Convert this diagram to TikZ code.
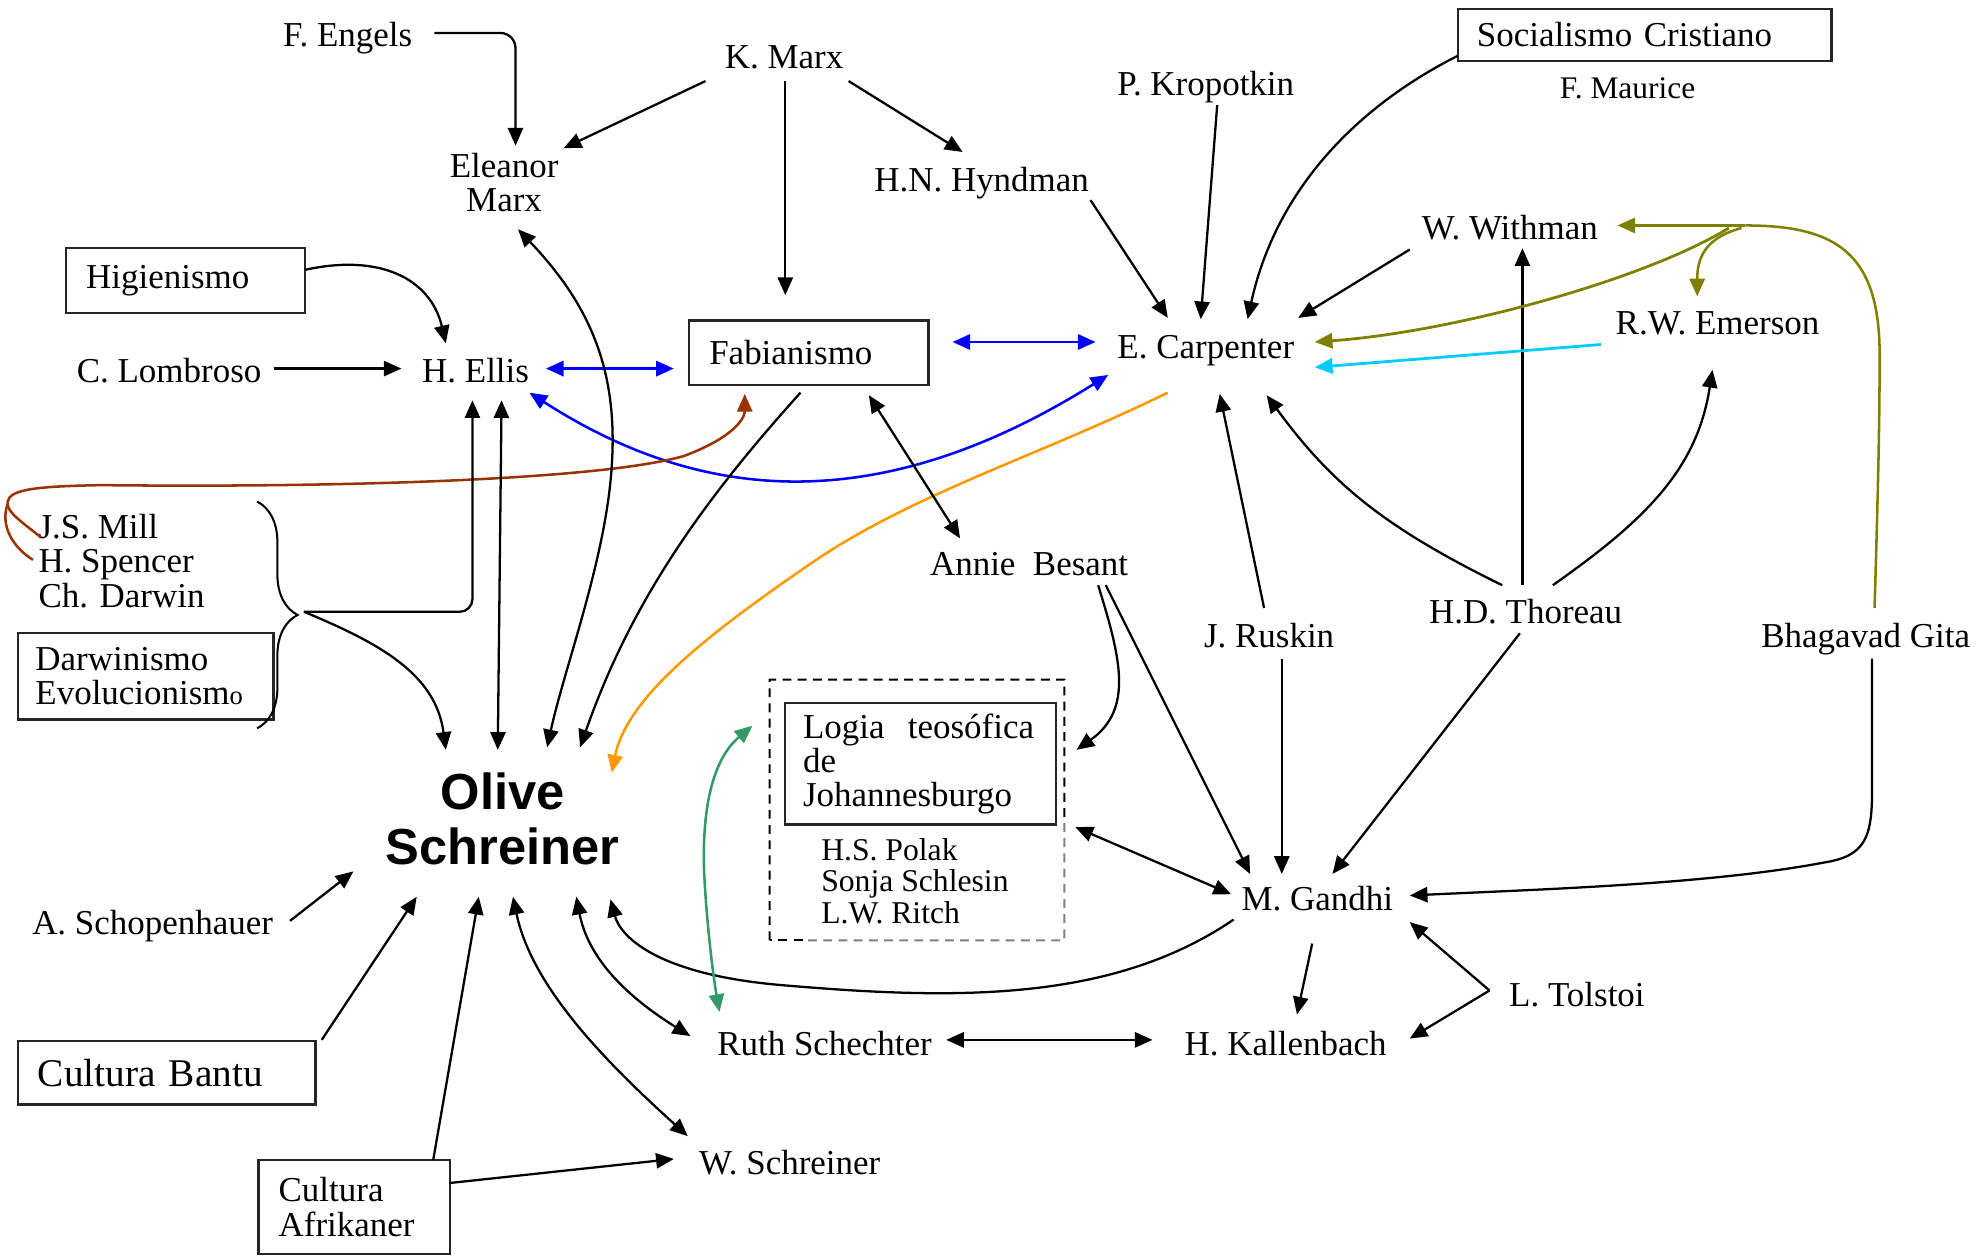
\documentclass[tikz,border=0pt]{standalone}
\usepackage{fontspec}
\setmainfont{Liberation Serif}
\setsansfont{Liberation Sans}
\usetikzlibrary{arrows.meta,calc,decorations.pathreplacing}
\definecolor{cblue}{RGB}{0,0,255}
\definecolor{cbrown}{RGB}{153,51,0}
\definecolor{corange}{RGB}{255,153,0}
\definecolor{ccyan}{RGB}{0,204,255}
\definecolor{colive}{RGB}{128,128,0}
\definecolor{cgreen}{RGB}{51,153,102}
\newcommand\mainsz{\fontsize{13.8}{13.5}\selectfont}
\begin{document}
\begin{tikzpicture}[x=0.5pt,y=-0.5pt,
  lbl/.style={font=\mainsz, inner xsep=6pt, inner ysep=4pt, text height=10pt, text depth=3pt},
  lbltwo/.style={font=\mainsz, inner sep=0pt},
  box/.style={draw=black!85, line width=0.9pt, font=\mainsz, align=left, inner xsep=8pt, inner ysep=0pt},
  olivebig/.style={font=\sffamily\bfseries\fontsize{20}{21.5}\selectfont, align=center, minimum width=113pt, minimum height=59pt, inner sep=0pt},
  members/.style={font=\fontsize{12.5}{12.5}\selectfont, align=left, inner sep=0pt, anchor=west},
  arr/.style={line width=0.9pt, -{Triangle[length=7pt,width=6pt]}},
  darr/.style={line width=0.9pt, {Triangle[length=7pt,width=6pt]}-{Triangle[length=7pt,width=6pt]}},
  oln/.style={colive, line width=1pt},
  dashpat/.style={line width=0.8pt, dash pattern=on 3.5pt off 2.5pt}
]
\useasboundingbox (0,0) rectangle (1568,992);

% ---------- nodes ----------
\node[lbl] (engels) at (274.5,30) {F. Engels};
\node[lbl] (kmarx) at (619,47) {K. Marx};
\node[lbltwo, align=center] (eleanor) at (398,144) {Eleanor\\Marx};
\node[lbl] (hyndman) at (775,144) {H.N. Hyndman};
\node[lbl] (kropotkin) at (952,68) {P. Kropotkin};
\node[box, minimum width=147.5pt, minimum height=20.5pt, text width=132.5pt, inner xsep=7.5pt] (socialismo) at (1298.5,27.5) {Socialismo Cristiano};
\node[lbl, font=\fontsize{12.4}{12}\selectfont] (maurice) at (1285,71) {F. Maurice};
\node[lbl] (withman) at (1192,182) {W. Withman};
\node[lbl] (emerson) at (1356,257) {R.W. Emerson};
\node[lbl] (carpenter) at (952,276) {E. Carpenter};
\node[box, minimum width=94.5pt, minimum height=25.5pt, text width=78.5pt] (higienismo) at (146.5,221.5) {Higienismo};
\node[lbl] (lombroso) at (133.5,295) {C. Lombroso};
\node[lbl] (ellis) at (375.5,295) {H. Ellis};
\node[box, minimum width=94.5pt, minimum height=25.5pt, text width=78.5pt] (fabianismo) at (638.5,278.5) {Fabianismo};
\node[lbltwo, font=\fontsize{13.8}{13.75}\selectfont, anchor=west, align=left] (mill) at (30,443) {J.S. Mill\\H. Spencer\\Ch. Darwin};
\node[box, minimum width=101pt, minimum height=34pt, text width=87pt, inner xsep=7pt] (darwinismo) at (115,534) {Darwinismo\\Evolucionism{\fontsize{10.5}{10}\selectfont o}};
\node[lbl] (besant) at (812.5,447) {Annie\ \ Besant};
\node[lbl] (ruskin) at (1002,504) {J. Ruskin};
\node[lbl] (thoreau) at (1204.5,485) {H.D. Thoreau};
\node[lbl] (gita) at (1473,504) {Bhagavad Gita};
\node[olivebig] (olive) at (397,646.5) {Olive\\Schreiner};
\node[minimum width=116pt, minimum height=102.5pt, inner sep=0pt] (logiagrp) at (724,639.5) {};
\node[box, minimum width=107pt, minimum height=48pt, text width=93pt, inner xsep=7pt] (logia) at (727,603) {Logia\ \ teosófica\\de\\Johannesburgo};
\node[members] (memb) at (648,695.5) {H.S. Polak\\Sonja Schlesin\\L.W. Ritch};
\node[lbl] (gandhi) at (1040,712) {M. Gandhi};
\node[lbl] (schopenhauer) at (120.5,731) {A. Schopenhauer};
\node[box, font=\fontsize{15.5}{15}\selectfont, minimum width=117.5pt, minimum height=25pt, text width=101.5pt] (bantu) at (131.5,847) {Cultura Bantu};
\node[lbl] (ruth) at (651,826) {Ruth Schechter};
\node[lbl] (kallenbach) at (1015,826) {H. Kallenbach};
\node[lbl] (tolstoi) at (1245,788) {L. Tolstoi};
\node[lbl] (wschreiner) at (623.5,920) {W. Schreiner};
\node[box, minimum width=75.5pt, minimum height=37pt, text width=59.5pt] (afrikaner) at (279.5,953) {Cultura\\Afrikaner};

% dashed group border
\draw[dashpat] (logiagrp.south west) -- (logiagrp.north west) -- (logiagrp.north east) -- ($(logiagrp.north east)!0.55!(logiagrp.south east)$);
\draw[dashpat, black!50] ($(logiagrp.north east)!0.55!(logiagrp.south east)$) -- (logiagrp.south east) -- ($(logiagrp.south west)+(26,0)$);
\draw[dashpat] ($(logiagrp.south west)+(26,0)$) -- (logiagrp.south west);

% brace
\draw[line width=0.8pt, decorate, decoration={brace, amplitude=16pt}] (203,396) -- (203,575);
\coordinate (bracetip) at (240,483);

% ---------- connectors ----------
\draw[arr, rounded corners=6pt] ($(engels)+(68.5,-4)$) -| ($(eleanor)+(9,-29)$);
\draw[arr] ($(kmarx)+(-62,17)$) -- ($(eleanor)+(47,-27)$);
\draw[arr] ($(kmarx)+(1,17)$) -- ($(fabianismo)+(-18.5,-45.5)$);
\draw[arr] ($(kmarx)+(51,17)$) -- ($(hyndman)+(-15,-24)$);
\draw[arr] ($(hyndman)+(86,14)$) -- ($(carpenter)+(-30,-25)$);
\draw[arr] ($(kropotkin)+(9,15)$) -- ($(carpenter)+(-4,-24)$);
\draw[arr] ($(socialismo)+(-147.5,16.5)$) .. controls +(-91,46) and +(20,-92) .. ($(carpenter)+(33,-24)$);
\draw[arr] ($(withman)+(-79,15)$) -- ($(carpenter)+(73,-25)$);
\draw[arr] ($(thoreau)+(-2.5,-23)$) -- ($(withman)+(10,14)$);

% Bhagavad Gita (olive)
\coordinate (gj) at (1378,178);
\draw[oln] ($(gita)+(7,-24)$) .. controls (1483,380) and (1484,330) .. (1484,280) .. controls (1484,200) and (1450,178) .. (gj);
\draw[oln, arr, line width=1pt] (gj) -- ($(withman)+(85,-4)$);
\draw[oln, arr, line width=1.1pt] ($(gj)+(-13,2)$) .. controls (1300,220) and (1150,262) .. ($(carpenter)+(86,-6)$);
\draw[oln, arr, line width=1pt] ($(gj)+(-3,2)$) .. controls (1345,188) and (1340,205) .. ($(emerson)+(-16,-23)$);

% cyan and blue
\draw[arr, ccyan, line width=1.1pt] ($(emerson)+(-92,15)$) -- ($(carpenter)+(86,14)$);
\draw[darr, cblue, line width=1.1pt] ($(fabianismo)+(113.5,-8.5)$) -- ($(carpenter)+(-87,-6)$);
\draw[darr, cblue, line width=1.1pt] ($(ellis)+(55.5,-4)$) -- ($(fabianismo)+(-106.5,12.5)$);
\draw[darr, cblue, line width=1pt] ($(ellis)+(42.5,15)$) .. controls +(132,85) and +(-185,116) .. ($(carpenter)+(-77,20)$);

% brown
\draw[arr, cbrown, line width=1pt] ($(mill.west)+(2,-19)$) .. controls (20,414) and (4,404) .. (6,396) .. controls (8,386) and (30,384) .. (80,383) .. controls (250,385) and (470,380) .. (540,360) .. controls (580,345) and (588,330) .. ($(fabianismo)+(-50.5,32.5)$);
\draw[cbrown, line width=1pt] (6,398) .. controls (0,415) and (10,432) .. ($(mill.west)+(-4,-1)$);

% Ellis / brace / Olive
\draw[arr, rounded corners=5pt] (bracetip) -| ($(ellis)+(-2.5,21)$);
\draw[darr] ($(ellis)+(20.5,21)$) -- ($(olive)+(-4,-54.5)$);
\draw[arr] (bracetip) .. controls +(60,25) and +(-8,-60) .. ($(olive)+(-45,-54.5)$);
\draw[darr] ($(eleanor)+(11,37)$) .. controls (470,245) and (490,300) .. (482,380) .. controls (475,450) and (445,530) .. ($(olive)+(35,-56.5)$);
\draw[arr] ($(fabianismo)+(-6.5,31.5)$) .. controls +(-72,80) and +(42,-120) .. ($(olive)+(61,-56.5)$);
\draw[arr, corange, line width=1pt] ($(carpenter)+(-30,34)$) .. controls (820,360) and (720,390) .. (640,445) .. controls (560,500) and (495,550) .. ($(olive)+(86,-36.5)$);

% Besant
\draw[darr] ($(fabianismo)+(47.5,33.5)$) -- ($(besant)+(-54.5,-22)$);
\draw[arr] ($(besant)+(54.5,15)$) .. controls +(18,58) and +(45,-32) .. ($(logiagrp)+(126,-47.5)$);
\draw[arr] ($(besant)+(60.5,15)$) -- ($(gandhi)+(-53,-22)$);

% Ruskin, Thoreau
\draw[arr] ($(ruskin)+(-4,-24)$) -- ($(carpenter)+(11,35)$);
\draw[arr] ($(ruskin)+(10,16)$) -- ($(gandhi)+(-28,-22)$);
\draw[arr] ($(thoreau)+(-18.5,-23)$) .. controls +(-96,-47) and +(50,68) .. ($(carpenter)+(48,36)$);
\draw[arr] ($(thoreau)+(21.5,-23)$) .. controls +(74,-52) and +(-12,78) .. ($(emerson)+(-4,35)$);
\draw[arr] ($(thoreau)+(-4.5,15)$) -- ($(gandhi)+(12,-22)$);

% Gita -> Gandhi
\draw[arr] ($(gita)+(5,16)$) -- (1478,625) .. controls (1478,662) and (1472,676) .. (1440,681) .. controls (1350,698) and (1220,702) .. ($(gandhi)+(73,-5)$);

% Gandhi
\draw[darr] ($(logiagrp)+(125,13.5)$) -- ($(gandhi)+(-68,-6)$);
\draw[arr] ($(gandhi)+(-66,14)$) .. controls (880,790) and (760,790) .. (620,778) .. controls (520,770) and (490,740) .. ($(olive)+(85,63.5)$);
\draw[arr] ($(gandhi)+(-4,33)$) -- ($(kallenbach)+(9,-25)$);
\draw[arr] ($(tolstoi)+(-69,-6)$) -- ($(gandhi)+(73,16)$);
\draw[arr] ($(tolstoi)+(-69,-6)$) -- ($(kallenbach)+(98,-6)$);
\draw[darr] ($(ruth)+(96,-5)$) -- ($(kallenbach)+(-105,-5)$);

% green
\draw[darr, cgreen, line width=1pt] ($(logiagrp)+(-130,-66.5)$) .. controls (562,600) and (554,640) .. (556,690) .. controls (558,730) and (563,770) .. ($(ruth)+(-83,-27)$);

% bottom left
\draw[darr] ($(olive)+(58,61.5)$) .. controls +(10,52) and +(-45,-28) .. ($(ruth)+(-106,-8)$);
\draw[darr] ($(olive)+(8,61.5)$) .. controls +(15,72) and +(-63,-57) .. ($(wschreiner)+(-80.5,-23)$);
\draw[arr] ($(afrikaner)+(62.5,-37)$) -- ($(olive)+(-19,61.5)$);
\draw[arr] ($(afrikaner)+(75.5,-19)$) -- ($(wschreiner)+(-91.5,-5)$);
\draw[arr] ($(bantu)+(122.5,-26)$) -- ($(olive)+(-68,61.5)$);
\draw[arr] ($(schopenhauer)+(108.5,-4)$) -- ($(olive)+(-118,41.5)$);
\draw[arr] ($(lombroso)+(82.5,-4)$) -- ($(ellis)+(-58.5,-4)$);
\draw[arr] ($(higienismo)+(94.5,-8.5)$) .. controls +(59,-13) and +(-12,-51) .. ($(ellis)+(-23.5,-24)$);
\end{tikzpicture}
\end{document}
